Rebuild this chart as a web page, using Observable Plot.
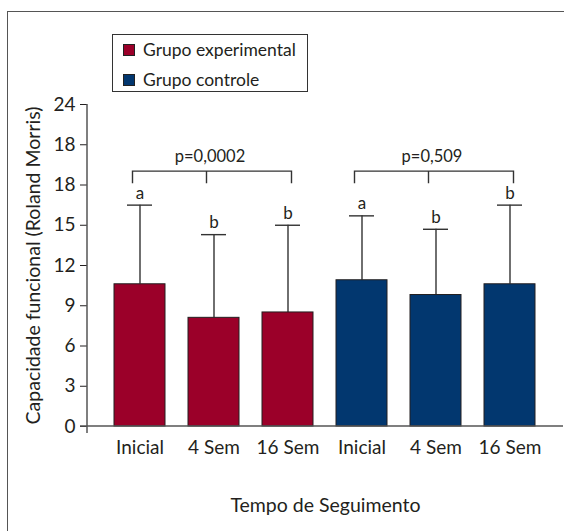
<!DOCTYPE html>
<html><head><meta charset="utf-8">
<script src="https://cdn.jsdelivr.net/npm/d3@7"></script>
<script src="https://cdn.jsdelivr.net/npm/@observablehq/plot@0.6"></script>
<style>
html,body{margin:0;padding:0;background:#fff;overflow:hidden}
#wrap{position:relative;width:564px;height:531px;font-family:Lato,sans-serif;color:#231f20}
#frame{position:absolute;left:7px;top:11px;width:600px;height:600px;border-top:1.5px solid #555;border-left:1.5px solid #555;pointer-events:none}
#legend{position:absolute;left:112px;top:34px;width:194px;height:56px;border:1.5px solid #333;background:#fff}
.item{position:absolute;left:10px;display:flex;align-items:center;font-size:17.5px;line-height:20px}
.sw{width:10px;height:10px;border:1px solid #222;margin-right:8px}
</style></head>
<body><div id="wrap"></div>
<script>
const timepoints = ["Inicial", "4 Sem", "16 Sem"];
const groups = ["Grupo experimental", "Grupo controle"];
const groupColors = ["#9b0029", "#02376f"];
const experimentalMean = [10.6, 8.1, 8.5];
const experimentalUpper = [16.5, 14.3, 15.0];
const controlMean = [10.9, 9.8, 10.6];
const controlUpper = [15.7, 14.7, 16.5];
const experimentalLetters = ["a", "b", "b"];
const controlLetters = ["a", "b", "b"];
const pValues = ["p=0,0002", "p=0,509"];
const yTicks = [0, 3, 6, 9, 12, 15, 18, 21, 24];
const yTickLabels = ["0", "3", "6", "9", "12", "15", "18", "18", "24"];
const xTitle = "Tempo de Seguimento";
const yTitle = "Capacidade funcional (Roland Morris)";

const means = [experimentalMean, controlMean];
const uppers = [experimentalUpper, controlUpper];
const letters = [experimentalLetters, controlLetters];

const rows = [];
groups.forEach((g, gi) => timepoints.forEach((t, ti) => rows.push({
  key: g + "|" + t, group: g, time: t,
  mean: means[gi][ti], upper: uppers[gi][ti], letter: letters[gi][ti]
})));
const keys = rows.map(d => d.key);
const bracketLevel = 19.0, bracketDrop = 0.9;
const pRows = groups.map((g, gi) => ({key: g + "|" + timepoints[1], p: pValues[gi]}));

function brackets(index, scales, values, dims) {
  const x = scales.x, y = scales.y;
  const bw = x.bandwidth ? x.bandwidth() : 0;
  const g = d3.create("svg:g").attr("stroke", "#333").attr("stroke-width", 1.4).attr("fill", "none");
  groups.forEach(gr => {
    const xs = timepoints.map(t => x(gr + "|" + t) + bw / 2);
    const l = xs[0] - 7, m = xs[1] - 7, r = xs[2] + 4;
    const yt = y(bracketLevel), yb = y(bracketLevel - bracketDrop);
    g.append("path").attr("d", `M${l},${yb}V${yt}H${r}V${yb}M${m},${yt}V${yb}`);
  });
  return g.node();
}
function axisLines(index, scales, values, dims) {
  const y = scales.y;
  const g = d3.create("svg:g").attr("stroke", "#555").attr("stroke-width", 1.5);
  const x0 = dims.marginLeft, x1 = dims.width - dims.marginRight;
  g.append("line").attr("x1", x0).attr("x2", x0).attr("y1", y(d3.max(yTicks))).attr("y2", y(0) + 7);
  g.append("line").attr("x1", x0 - 7).attr("x2", x1).attr("y1", y(0)).attr("y2", y(0));
  return g.node();
}

const chart = Plot.plot({
  width: 564, height: 531,
  marginLeft: 87, marginRight: 1, marginTop: 104, marginBottom: 105,
  style: {fontFamily: "Lato, sans-serif", fontSize: "19px", color: "#231f20", background: "#fff", overflow: "visible"},
  x: {domain: keys, paddingInner: 0.31, paddingOuter: 0.33, tickSize: 0, tickPadding: 14,
      tickFormat: k => k.split("|")[1], label: null},
  y: {domain: [0, 24], ticks: yTicks, tickFormat: d => yTickLabels[yTicks.indexOf(d)],
      tickSize: 7, tickPadding: 5, label: null},
  color: {domain: groups, range: groupColors},
  marks: [
    Plot.ruleX(rows, {x: "key", y1: "mean", y2: "upper", stroke: "#333", strokeWidth: 1.4}),
    Plot.tickY(rows, {x: "key", y: "upper", stroke: "#333", strokeWidth: 1.4, insetLeft: 13, insetRight: 13}),
    Plot.barY(rows, {x: "key", y: "mean", fill: "group", stroke: "#231f20", strokeWidth: 1}),
    Plot.text(rows, {x: "key", y: "upper", text: "letter", dy: -12, fontSize: 17, fill: "#231f20"}),
    brackets,
    Plot.text(pRows, {x: "key", y: () => bracketLevel, text: "p", dy: -15, dx: -4, fontSize: 16.5, fill: "#231f20"}),
    axisLines,
    Plot.text([xTitle], {frameAnchor: "bottom", text: d => d, dy: 85, fontSize: 19.5, fill: "#231f20"}),
    Plot.text([yTitle], {frameAnchor: "left", textAnchor: "middle", text: d => d, rotate: -90, dx: -54, fontSize: 19.5, fill: "#231f20"})
  ]
});

const wrap = document.getElementById("wrap");
wrap.appendChild(chart);
const frame = document.createElement("div"); frame.id = "frame"; wrap.appendChild(frame);
const legend = document.createElement("div"); legend.id = "legend";
groups.forEach((g, i) => {
  const it = document.createElement("div"); it.className = "item"; it.style.top = (i === 0 ? 5 : 35) + "px";
  const sw = document.createElement("span"); sw.className = "sw"; sw.style.background = groupColors[i];
  const tx = document.createElement("span"); tx.textContent = g;
  it.appendChild(sw); it.appendChild(tx); legend.appendChild(it);
});
wrap.appendChild(legend);
</script>
</body></html>
